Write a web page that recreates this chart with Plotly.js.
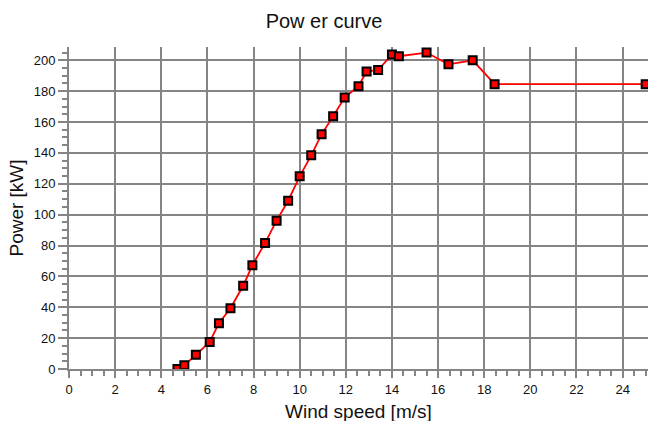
<!DOCTYPE html>
<html>
<head>
<meta charset="utf-8">
<script src="https://cdn.plot.ly/plotly-3.0.1.min.js"></script>
<style>html,body{margin:0;padding:0;background:#fff;}#chart{width:648px;height:421px;}</style>
</head>
<body>
<div id="chart"></div>
<script>
var windSpeed = [4.7, 5.0, 5.5, 6.1, 6.5, 7.0, 7.55, 7.95, 8.5, 9.0, 9.5, 10.0, 10.5, 10.95, 11.45, 11.95, 12.55, 12.9, 13.4, 14.0, 14.3, 15.5, 16.45, 17.5, 18.45, 25.0];
var power = [0, 2.4, 9.2, 17.5, 29.7, 39.4, 53.9, 67.2, 81.7, 96.1, 109, 124.8, 138.4, 152, 163.8, 175.9, 183.2, 192.7, 193.7, 203.7, 202.6, 205, 197.4, 200, 184.5, 184.5];
var xTickVals = [0, 2, 4, 6, 8, 10, 12, 14, 16, 18, 20, 22, 24];
var yTickVals = [0, 20, 40, 60, 80, 100, 120, 140, 160, 180, 200];
var chartTitle = "Pow er curve";
var xTitle = "Wind speed [m/s]";
var yTitle = "Power [kW]";

var gridCol = "#858585";
var fontFam = "'Liberation Sans', Arial, sans-serif";

var trace = {
  x: windSpeed, y: power, type: "scatter", mode: "lines+markers",
  line: {color: "#ff0000", width: 1.8},
  marker: {symbol: "square", size: 8, color: "#ff0000", line: {color: "#000000", width: 2}},
  cliponaxis: true, hoverinfo: "x+y"
};

var plotTop = 47, plotBottom = 421 - 52;
var xTitleCenterPx = 411;

var layout = {
  width: 648, height: 421,
  margin: {l: 69, r: 0, t: plotTop, b: 52, pad: 0},
  paper_bgcolor: "#ffffff", plot_bgcolor: "#ffffff",
  showlegend: false,
  font: {family: fontFam, color: "#111111", size: 13},
  title: {text: chartTitle, font: {size: 20, family: fontFam, color: "#111111"}, x: 0.5, xanchor: "center", xref: "container", y: 0.95, yref: "container", yanchor: "middle"},
  xaxis: {
    range: [0, 25.1], tickvals: xTickVals, ticktext: xTickVals.map(String),
    showgrid: true, gridcolor: gridCol, gridwidth: 2,
    showline: true, linecolor: gridCol, linewidth: 2, zeroline: false,
    ticks: "outside", ticklen: 7, tickwidth: 2, tickcolor: gridCol,
    minor: {dtick: 0.5, ticks: "outside", ticklen: 5, tickwidth: 2, tickcolor: gridCol, showgrid: false},
    tickfont: {size: 13, color: "#111111"},
    automargin: false, fixedrange: true
  },
  yaxis: {
    range: [0, 208.6], tickvals: yTickVals, ticktext: yTickVals.map(String),
    showgrid: true, gridcolor: gridCol, gridwidth: 2,
    showline: true, linecolor: gridCol, linewidth: 2, zeroline: false,
    ticks: "outside", ticklen: 9, tickwidth: 2, tickcolor: gridCol,
    minor: {dtick: 5, ticks: "outside", ticklen: 5, tickwidth: 2, tickcolor: gridCol, showgrid: false},
    tickfont: {size: 13, color: "#111111"},
    title: {text: yTitle, font: {size: 19, color: "#111111"}, standoff: 5},
    automargin: false, fixedrange: true
  },
  annotations: [{
    text: xTitle, xref: "paper", yref: "paper", x: 0.5,
    y: (plotBottom - xTitleCenterPx) / (plotBottom - plotTop),
    xanchor: "center", yanchor: "middle", showarrow: false,
    font: {size: 19, color: "#111111", family: fontFam}
  }]
};

Plotly.newPlot("chart", [trace], layout, {displayModeBar: false, staticPlot: true});
</script>
</body>
</html>
